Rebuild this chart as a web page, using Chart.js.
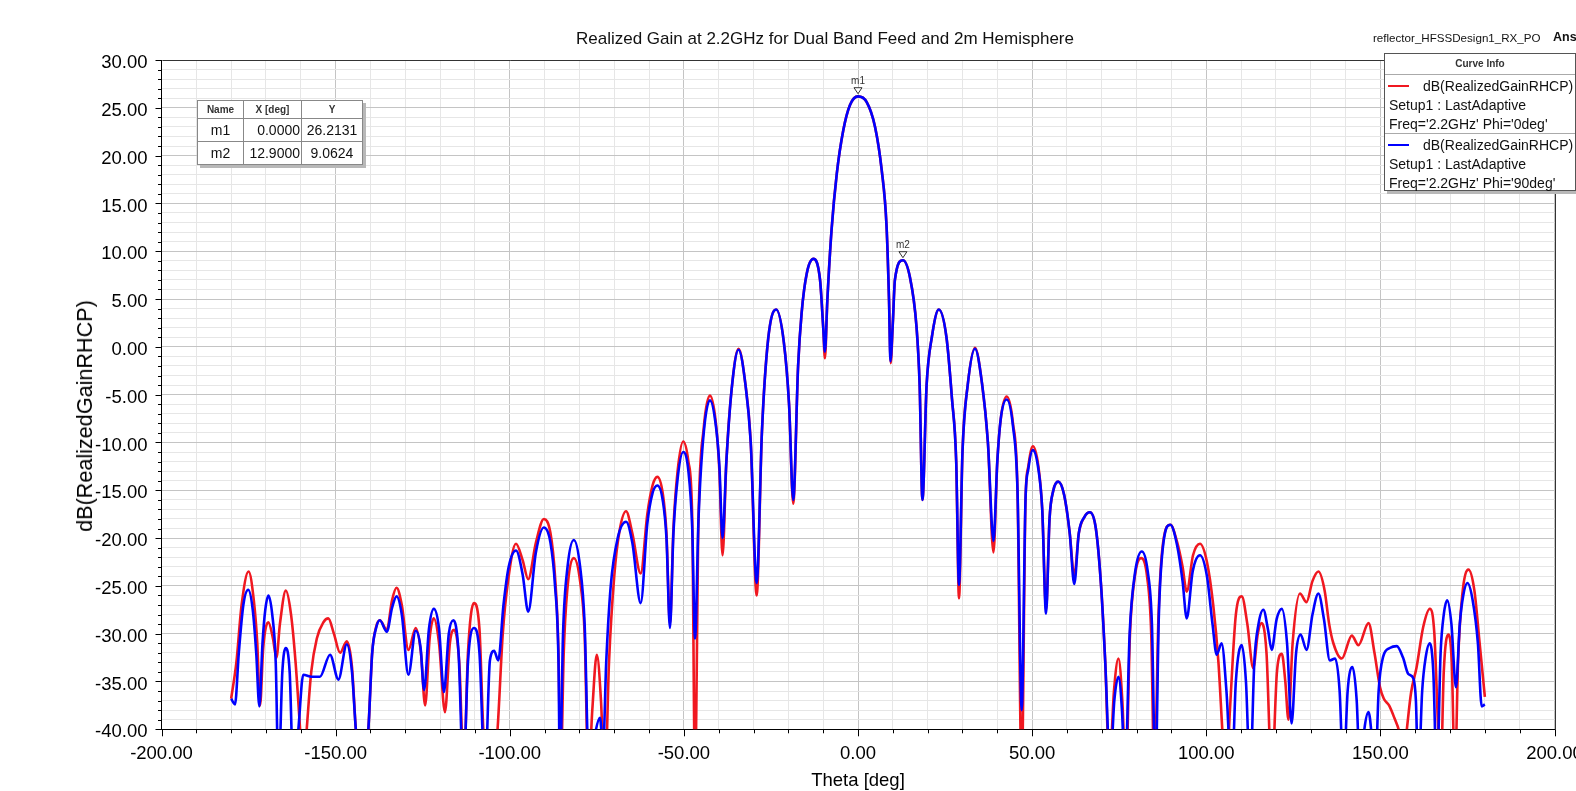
<!DOCTYPE html>
<html>
<head>
<meta charset="utf-8">
<script src="https://cdn.jsdelivr.net/npm/chart.js@4.4.1/dist/chart.umd.min.js"></script>
<style>
  body { margin: 0; background: #fff; }
  #wrap { position: relative; width: 1576px; height: 791px; overflow: hidden; font-family: Arial, "Liberation Sans", sans-serif; color: #111; }
  #c { position: absolute; left: 0; top: 0; }
  .title { position: absolute; left: 525px; width: 600px; top: 29px; line-height: 20px; font-size: 17px; text-align: center; }
  .ytitle { position: absolute; left: 84.5px; top: 416px; transform: translate(-50%, -50%) rotate(-90deg); font-size: 21.6px; line-height: 24px; white-space: nowrap; color: #000; }
  .proj { position: absolute; left: 1373px; top: 31px; font-size: 11.6px; line-height: 14px; }
  .brand { position: absolute; left: 1553px; top: 30px; font-size: 12.5px; line-height: 14px; font-weight: bold; }
  .legend { position: absolute; left: 1384px; top: 53px; width: 190px; height: 136px; background: #fff; border: 1px solid #555; box-shadow: 3px 3px 0 #b8b8b8; font-size: 14px; }
  .lhead { height: 20px; line-height: 20px; border-bottom: 1px solid #aaa; text-align: center; font-size: 10px; font-weight: bold; color: #333; }
  .entry { position: relative; height: 56px; padding: 2px 0 0 4px; line-height: 19px; white-space: nowrap; }
  .entry + .entry { border-top: 1px solid #aaa; }
  .sw { position: absolute; left: 3px; top: 10px; width: 21px; height: 2px; }
  .ind { padding-left: 34px; }
  table.mk { position: absolute; left: 197px; top: 100px; border-collapse: collapse; table-layout: fixed; background: #fff; border: 1px solid #444; box-shadow: 3px 3px 0 #b8b8b8; }
  table.mk th, table.mk td { border: 1px solid #888; padding: 0 2px; white-space: nowrap; }
  table.mk th { height: 17px; font-size: 10px; font-weight: bold; color: #333; text-align: center; }
  table.mk td { height: 22px; font-size: 14px; }
  table.mk td.c { text-align: center; }
  table.mk td.r { text-align: right; padding-right: 1px; }
  table.mk td.m { text-align: center; }
</style>
</head>
<body>
<div id="wrap">
  <canvas id="c" width="1576" height="791"></canvas>
  <div class="title">Realized Gain at 2.2GHz for Dual Band Feed and 2m Hemisphere</div>
  <div class="ytitle">dB(RealizedGainRHCP)</div>
  <div class="proj">reflector_HFSSDesign1_RX_PO</div>
  <div class="brand">Ansys</div>
  <div class="legend">
    <div class="lhead">Curve Info</div>
    <div class="entry"><span class="sw" style="background:rgb(240,24,32)"></span><span class="ind">dB(RealizedGainRHCP)</span><br>Setup1 : LastAdaptive<br>Freq='2.2GHz' Phi='0deg'</div>
    <div class="entry"><span class="sw" style="background:rgb(0,0,255)"></span><span class="ind">dB(RealizedGainRHCP)</span><br>Setup1 : LastAdaptive<br>Freq='2.2GHz' Phi='90deg'</div>
  </div>
  <table class="mk" id="mk"></table>
</div>
<script>
// theta [deg], dB(RealizedGainRHCP)
const phi0 = [
  [-180,-36.8],[-178.5,-33],[-177,-27],[-175,-23.5],[-173.5,-26.5],[-172.5,-31],[-171.7,-37.5],
  [-170.8,-31.5],[-169.3,-28.8],[-168,-30.5],[-167,-32.5],[-166,-29],[-164.3,-25.5],[-162.8,-28],
  [-161.5,-33],[-160.2,-40],[-159.3,-45],[-158.3,-40],[-157,-34],[-155.4,-30.5],[-153.5,-28.8],
  [-152.1,-28.4],[-150.5,-30],[-148.7,-32],[-146.8,-30.8],[-145.3,-33.5],[-144.2,-40],[-142.4,-46],
  [-140.6,-40],[-139.5,-32],[-138.3,-29.2],[-137.3,-28.6],[-135.3,-29.6],[-133.8,-26.5],[-132.5,-25.2],
  [-131,-27],[-129.1,-31.7],[-127,-29.4],[-125.5,-32],[-124.3,-37.5],[-123,-30.5],[-121.8,-28.4],
  [-120.3,-31],[-118.6,-38.2],[-117.2,-31],[-116,-29.6],[-114.5,-33],[-113.2,-44],[-112,-32],
  [-110.3,-26.8],[-108.7,-29.5],[-107.6,-40],[-105.5,-48],[-103.5,-40],[-102,-30],[-100.5,-24.5],
  [-98.2,-20.6],[-96.3,-22.3],[-94.7,-24.3],[-92.5,-20.5],[-90.2,-18],[-88.3,-19.5],[-87,-24],
  [-86,-32],[-85.4,-45],[-84.5,-32],[-83.5,-25.5],[-81.6,-22.1],[-79.8,-24.5],[-78.5,-30],[-77.4,-45],
  [-76.3,-38],[-75,-32.2],[-73.8,-37],[-72.7,-46],[-71.5,-33],[-70,-24],[-68.5,-19.3],[-66.6,-17.2],
  [-64.8,-19.5],[-62.4,-23.7],[-60.5,-17.5],[-59,-14.5],[-57.6,-13.6],[-56,-15.5],[-55,-19.5],
  [-54,-29],[-53,-19],[-51.8,-13],[-50.2,-9.9],[-48.7,-12],[-47.6,-18],[-46.8,-45],[-45.8,-18],
  [-44.3,-8.5],[-42.5,-5.1],[-40.8,-8],[-39.8,-13],[-38.9,-21.8],[-37.8,-12],[-36.3,-4.5],
  [-34.3,-0.2],[-32.3,-4],[-30.8,-10],[-29.1,-26],[-27.6,-9],[-25.8,0.8],[-23.5,3.9],[-21.3,0.5],
  [-19.8,-6],[-18.6,-16.4],[-17.2,-2],[-16.2,3.5],[-14.7,7.7],[-12.8,9.2],[-10.9,7],[-10,2.1],
  [-9.5,-1.2],[-8.8,4.9],[-7.6,12.2],[-6.1,18.1],[-4.2,22.7],[-2.3,25.3],[0,26.2],[2.5,25.6],
  [4.9,23],[6.8,18.5],[8.2,12.6],[8.9,5],[9.4,-1.7],[10,2.5],[10.6,7],[12.9,9.06],[14.9,7.3],
  [16.8,2.1],[17.7,-4],[18.5,-16],[19.7,-4],[21.2,1],[23.2,3.9],[25.4,1],[27,-5.5],[28.2,-12],
  [29,-26.3],[30,-11],[31.5,-4],[33.6,-0.1],[35.6,-3.8],[37.3,-10],[38.9,-21.5],[40,-12],[41,-7.5],
  [42.7,-5.2],[44.5,-8],[45.8,-15],[47,-45],[48.1,-16],[48.9,-12.5],[50.2,-10.4],[51.8,-12.5],
  [52.9,-17],[54,-27.5],[55,-18],[56.1,-15],[57.5,-14.1],[59.2,-15.5],[60.8,-19.5],[62.1,-24],
  [63.4,-19.5],[65,-17.8],[66.6,-17.3],[68.3,-19],[69.8,-25],[71,-33],[72.2,-44],[73.5,-36],
  [74.8,-32.6],[75.9,-37],[76.9,-45],[78.1,-30],[79.5,-24],[81.3,-22.1],[83,-24],[84.2,-30],
  [85.1,-45],[86.3,-28],[87.6,-20.5],[89.7,-18.6],[91.7,-20.5],[93.2,-23],[94.4,-25.6],[96.2,-21.8],
  [98.2,-20.6],[100.2,-22.5],[102,-27],[103.5,-33],[104.6,-40],[105.6,-46],[106.8,-38],[108.5,-28],
  [110.2,-26.1],[111.8,-29],[113.5,-33.6],[114.8,-30],[115.9,-28.9],[117.3,-32],[118.8,-45],
  [120.3,-34],[121.7,-32.1],[122.7,-35],[123.6,-39],[124.8,-31],[126.9,-25.8],[128.8,-26.7],
  [130.5,-24.5],[132.2,-23.5],[134,-25.5],[135.3,-29],[136.5,-31],[138.9,-32.6],[141.8,-30.2],
  [143.7,-31.2],[146.6,-28.9],[148.3,-32],[149.9,-35.6],[151,-36.8],[152.5,-37.5],[154,-38.8],
  [155.6,-40.5],[156.7,-43],[157.6,-40],[158.8,-36.2],[160.4,-33.5],[162.3,-29.3],[164.2,-27.4],
  [165.5,-30],[166.6,-40],[167.3,-45],[168.2,-34],[169.5,-30.1],[170.5,-33],[171.4,-45],[172.3,-33],
  [173.5,-26],[175.3,-23.3],[177,-25.5],[178.5,-31],[180,-36.6]
];

const phi90 = [
  [-180,-36.8],[-178.9,-37.4],[-177.8,-32],[-176.5,-27],[-175.1,-25.4],[-173.8,-27.5],[-172.8,-32],
  [-171.9,-37.6],[-171,-31],[-170.2,-27.5],[-169.3,-26],[-168.2,-28],[-167.2,-33],[-166.4,-45],
  [-165.3,-34],[-164.3,-31.5],[-163.2,-34],[-162.1,-45],[-160.7,-40],[-159.3,-34.3],[-156.9,-34.5],
  [-154.5,-34.5],[-151.6,-32.2],[-149.2,-34.8],[-146.8,-31.1],[-145.3,-34],[-144.2,-40],[-142.4,-46],
  [-140.6,-40],[-139.5,-32],[-138.3,-29.3],[-137.3,-28.6],[-135.3,-29.8],[-133.8,-27.3],[-132.5,-26.1],
  [-131,-28],[-129.1,-34.3],[-127,-29.7],[-125.6,-31.5],[-124.6,-35.9],[-123.2,-29.5],[-121.8,-27.4],
  [-120.3,-29.5],[-118.9,-36.1],[-117.5,-30],[-116.2,-28.6],[-114.7,-32],[-113.3,-45],[-112,-33],
  [-110.3,-29.4],[-108.7,-32],[-107.1,-45],[-105.7,-32.8],[-104.5,-31.8],[-103.3,-32.8],[-101.8,-27],
  [-100.3,-23],[-98.2,-21.3],[-96.3,-23.8],[-94.7,-27.7],[-92.5,-21.5],[-90.2,-18.9],[-88.3,-20.5],
  [-87,-25],[-86,-33],[-85.6,-45],[-84.7,-30],[-83.4,-23],[-81.6,-20.2],[-79.8,-23],[-78.5,-29],
  [-77.2,-45],[-75.5,-40.5],[-74.1,-38.8],[-73.2,-42],[-72.3,-33],[-71,-25],[-69,-20],[-66.6,-18.3],
  [-64.8,-20.5],[-62.4,-26.8],[-60.5,-18.5],[-59,-15.3],[-57.6,-14.5],[-56,-16.2],[-55,-20],
  [-54,-29.4],[-53,-19.5],[-51.8,-13.8],[-50.2,-11],[-48.7,-13],[-47.6,-19],[-46.8,-30.5],[-45.8,-18],
  [-44.3,-9],[-42.5,-5.6],[-40.8,-8.3],[-39.8,-12.5],[-38.9,-20],[-37.8,-12],[-36.3,-4.5],
  [-34.3,-0.3],[-32.3,-4],[-30.8,-10],[-29.1,-24.7],[-27.6,-9],[-25.8,0.8],[-23.5,3.9],[-21.3,0.5],
  [-19.8,-6],[-18.6,-16],[-17.2,-2],[-16.2,3.5],[-14.7,7.7],[-12.8,9.2],[-10.9,7],[-10,2.1],
  [-9.5,-0.5],[-8.8,4.9],[-7.6,12.2],[-6.1,18.1],[-4.2,22.7],[-2.3,25.3],[0,26.2],[2.5,25.6],
  [4.9,23],[6.8,18.5],[8.2,12.6],[8.9,5],[9.3,-1.5],[10,2.5],[10.6,7],[12.9,9.06],[14.9,7.3],
  [16.8,2.1],[17.7,-4],[18.5,-16],[19.7,-4],[21.2,1],[23.2,3.9],[25.4,1],[27,-5.5],[28.2,-12],
  [29,-24.9],[30,-11],[31.5,-4],[33.6,-0.2],[35.6,-3.8],[37.3,-10],[38.9,-20.3],[40,-12],[41,-7.5],
  [42.7,-5.5],[44.5,-8.3],[45.8,-15],[47,-38],[48.1,-16],[48.9,-12.8],[50.2,-10.8],[51.8,-12.8],
  [52.9,-17],[54,-27.9],[55,-18],[56.1,-15],[57.5,-14.1],[59.2,-15.5],[60.8,-19.5],[62.1,-24.8],
  [63.4,-19.5],[65,-17.8],[66.6,-17.3],[68.3,-19],[69.8,-25],[71,-33],[72.4,-44],[73.6,-37],
  [74.8,-34.5],[75.8,-38],[76.7,-45],[78,-30],[79.6,-23.5],[81.5,-21.4],[83.2,-23.5],[84.4,-29],
  [85.4,-45],[86.4,-28],[87.7,-20.5],[89.7,-18.6],[91.6,-20.7],[93.2,-24.5],[94.4,-28.4],[96.1,-23.5],
  [98.2,-21.8],[100.2,-24],[101.8,-29],[103,-32.2],[104.4,-31],[105.8,-36],[107.3,-45],[108.5,-35],
  [110.2,-31.2],[111.4,-35],[112.6,-45],[113.8,-33],[115,-29],[116.4,-27.5],[117.7,-29.5],
  [118.8,-31.7],[120.2,-28.5],[121.7,-27.4],[123.2,-31],[124.5,-39.4],[125.8,-32],[127.1,-30.1],
  [128.8,-31.7],[130.5,-28],[132.2,-25.8],[133.8,-28.5],[135.5,-32.8],[137,-32.6],[138.3,-36],
  [139.4,-45],[140.6,-36],[142,-33.5],[143.2,-37],[144.2,-45],[145.4,-40],[146.6,-38.2],[147.6,-41],
  [148.5,-45],[149.5,-36],[150.8,-32.4],[152.7,-31.5],[154.7,-31.3],[156.5,-32.5],[158,-34.2],
  [159.5,-34.7],[160.2,-37],[160.9,-45],[162,-36],[163,-32.5],[164.2,-31],[165.2,-34],[166.2,-45],
  [167.3,-32],[168.2,-28],[169.2,-26.5],[170.4,-29],[171.7,-35.6],[172.8,-29],[173.8,-26],
  [175,-24.7],[176.5,-26.5],[178,-31],[179.1,-37.6],[180,-37.4]
];

const markerNames = ['m1', 'm2'];
const markerTheta = [0.0, 12.9];
const markerGain = [26.2131, 9.0624];

const FONT = "Arial, 'Liberation Sans', sans-serif";

// marker table
const mk = document.getElementById('mk');
let rows = '<tr><th style="width:41px">Name</th><th style="width:53px">X [deg]</th><th style="width:56px">Y</th></tr>';
markerNames.forEach((n, i) => {
  rows += '<tr><td class="c">' + n + '</td><td class="r">' + markerTheta[i].toFixed(4) +
          '</td><td class="m">' + markerGain[i].toFixed(4) + '</td></tr>';
});
mk.innerHTML = rows;

// frame + hfss style tick marks
const frameTicks = {
  id: 'frameTicks',
  afterDraw(chart) {
    const { ctx, chartArea: a, scales: { x, y } } = chart;
    ctx.save();
    ctx.strokeStyle = '#333';
    ctx.lineWidth = 1;
    ctx.beginPath();
    ctx.moveTo(Math.round(a.left) + 0.5, Math.round(a.top) + 0.5);
    ctx.lineTo(Math.round(a.right) + 0.5, Math.round(a.top) + 0.5);
    ctx.lineTo(Math.round(a.right) + 0.5, Math.round(a.bottom) + 0.5);
    ctx.stroke();
    ctx.strokeStyle = '#000';
    ctx.beginPath();
    x.ticks.forEach(t => {
      const px = Math.round(x.getPixelForValue(t.value)) + 0.5;
      const len = t.value % 50 === 0 ? 7 : 4;
      ctx.moveTo(px, a.bottom);
      ctx.lineTo(px, a.bottom + len);
    });
    y.ticks.forEach(t => {
      const py = Math.round(y.getPixelForValue(t.value)) + 0.5;
      const len = t.value % 5 === 0 ? 6 : 3.5;
      ctx.moveTo(a.left - len, py);
      ctx.lineTo(a.left, py);
    });
    ctx.stroke();
    ctx.restore();
  }
};

const markers = {
  id: 'markers',
  afterDatasetsDraw(chart) {
    const { ctx, scales: { x, y } } = chart;
    ctx.save();
    markerNames.forEach((n, i) => {
      const px = x.getPixelForValue(markerTheta[i]);
      const py = y.getPixelForValue(markerGain[i]) - 2.5;
      ctx.beginPath();
      ctx.moveTo(px, py);
      ctx.lineTo(px - 4, py - 6);
      ctx.lineTo(px + 4, py - 6);
      ctx.closePath();
      ctx.fillStyle = '#fff';
      ctx.fill();
      ctx.strokeStyle = '#333';
      ctx.lineWidth = 1;
      ctx.stroke();
      ctx.font = '10px ' + FONT;
      ctx.fillStyle = '#333';
      ctx.textAlign = 'center';
      ctx.textBaseline = 'middle';
      ctx.fillText(n, px, py - 12);
    });
    ctx.restore();
  }
};

const tickFont = { family: FONT, size: 18.5 };

new Chart(document.getElementById('c'), {
  type: 'line',
  data: {
    datasets: [
      {
        label: "Phi='0deg'",
        data: phi0.map(p => ({ x: p[0], y: p[1] })),
        borderColor: 'rgb(240,24,32)',
        borderWidth: 2.6,
        pointRadius: 0,
        cubicInterpolationMode: 'monotone',
        order: 2
      },
      {
        label: "Phi='90deg'",
        data: phi90.map(p => ({ x: p[0], y: p[1] })),
        borderColor: 'rgb(0,0,255)',
        borderWidth: 2.6,
        pointRadius: 0,
        cubicInterpolationMode: 'monotone',
        order: 1
      }
    ]
  },
  options: {
    responsive: false,
    animation: false,
    devicePixelRatio: 1,
    layout: { padding: { top: 60, right: 21.5, left: 0, bottom: 0 } },
    plugins: { legend: { display: false }, tooltip: { enabled: false } },
    scales: {
      x: {
        type: 'linear', min: -200, max: 200,
        ticks: {
          stepSize: 10, autoSkip: false, maxRotation: 0, padding: 14, color: '#000', font: tickFont,
          callback: v => (v % 50 === 0 ? v.toFixed(2) : '')
        },
        grid: { drawTicks: false, color: c => (c.tick.value % 50 === 0 ? '#c4c4c4' : '#e6e6e6') },
        border: { color: '#000' },
        title: { display: true, text: 'Theta [deg]', color: '#000', font: tickFont, padding: { top: 0, bottom: -1 } },
        afterFit(s) { s.height = 791 - 729.3; s.paddingLeft = 0; s.paddingRight = 0; }
      },
      y: {
        min: -40, max: 30,
        ticks: {
          stepSize: 1, autoSkip: false, padding: 14, labelOffset: 3, color: '#000', font: tickFont,
          callback: v => (v % 5 === 0 ? v.toFixed(2) : '')
        },
        grid: { drawTicks: false, color: c => (c.tick.value % 5 === 0 ? '#c4c4c4' : '#e6e6e6') },
        border: { color: '#000' },
        afterFit(s) { s.width = 161.5; }
      }
    }
  },
  plugins: [frameTicks, markers]
});
</script>
</body>
</html>
